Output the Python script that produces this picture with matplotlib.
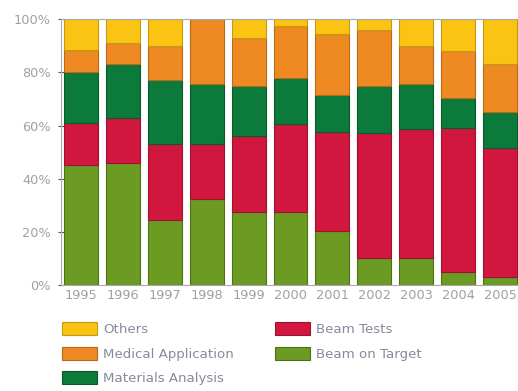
import numpy as np
import matplotlib.pyplot as plt

years = ['1995', '1996', '1997', '1998', '1999', '2000',
         '2001', '2002', '2003', '2004', '2005']

# share of beam time per year, in percent (bottom to top of each bar)
beam_on_target = [45, 46, 24.5, 32.5, 27.5, 27.5, 20.5, 10, 10, 5, 3]
beam_tests = [16, 17, 28.5, 20.5, 28.5, 33, 37, 47, 48.5, 54, 48.5]
materials_analysis = [19, 20, 24, 22.5, 19, 17.5, 14, 18, 17, 11.5, 13.5]
medical_application = [8.5, 8, 13, 24.5, 18, 19.5, 23, 21, 14.5, 17.5, 18]
others = [11.5, 9, 10, 0, 7, 2.5, 5.5, 4, 10, 12, 17]

yticks = [0, 20, 40, 60, 80, 100]
ytick_labels = ['0%', '20%', '40%', '60%', '80%', '100%']

series = [
    ('Beam on Target', beam_on_target, '#6b9b22', '#4d7214'),
    ('Beam Tests', beam_tests, '#d2173f', '#9c1230'),
    ('Materials Analysis', materials_analysis, '#0b7a3a', '#075a29'),
    ('Medical Application', medical_application, '#ef8a22', '#b86a16'),
    ('Others', others, '#fbc313', '#c49a10'),
]

plt.rcParams['font.family'] = ['DejaVu Sans']

fig = plt.figure(figsize=(5.18, 3.91), dpi=100)
ax = fig.add_axes([0.1178, 0.271, 0.8822, 0.680])

x = np.arange(len(years))
bottom = np.zeros(len(years))
bars = {}
for name, values, color, edge in series:
    values = np.array(values, dtype=float)
    bars[name] = ax.bar(x, values, width=0.81, bottom=bottom, color=color,
                        edgecolor=edge, linewidth=0.8, label=name, zorder=2)
    bottom += values

ax.set_xlim(-0.477, 10.43)
ax.set_ylim(0, 100)
ax.set_xticks(x)
ax.set_xticklabels(years)
ax.set_yticks(yticks)
ax.set_yticklabels(ytick_labels)

ax.tick_params(axis='x', length=0, pad=3, labelsize=9.3, labelcolor='#a0a0a0')
ax.tick_params(axis='y', direction='inout', length=5, width=0.8, color='#555555',
               pad=5, labelsize=9.3, labelcolor='#a0a0a0')

for side in ['left', 'top', 'bottom']:
    ax.spines[side].set_color('#aaaaaa')
    ax.spines[side].set_linewidth(0.8)
ax.spines['right'].set_visible(False)

order = ['Others', 'Medical Application', 'Materials Analysis',
         'Beam Tests', 'Beam on Target']
leg = fig.legend([bars[n] for n in order], order, ncol=2, loc='upper left',
                 bbox_to_anchor=(0.120, 0.176), frameon=False, fontsize=9.6,
                 borderpad=0, borderaxespad=0, handlelength=2.6,
                 handleheight=1.1, handletextpad=0.5, labelspacing=0.8,
                 columnspacing=3.05)
for t in leg.get_texts():
    t.set_color('#858b9c')

fig.savefig('out.png', dpi=100)
